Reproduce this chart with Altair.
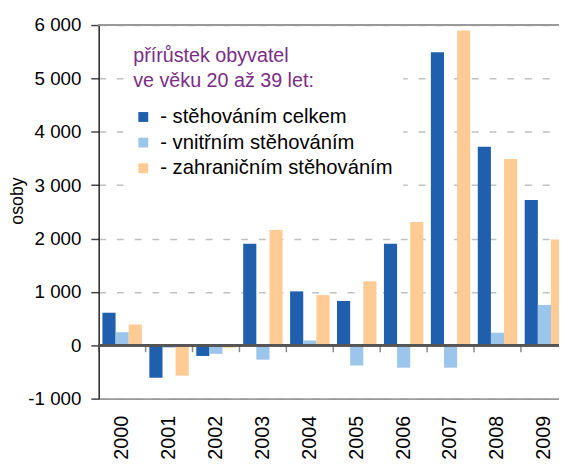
import altair as alt
import pandas as pd

years = ["2000", "2001", "2002", "2003", "2004", "2005", "2006", "2007", "2008", "2009"]
series_names = ["stěhováním celkem", "vnitřním stěhováním", "zahraničním stěhováním"]
celkem = [610, -610, -200, 1900, 1010, 830, 1900, 5490, 3720, 2720]
vnitrni = [245, -45, -160, -270, 90, -380, -420, -420, 235, 755]
zahranicni = [390, -570, -45, 2160, 940, 1200, 2310, 5900, 3490, 1980]
colors = ["#1F5FAD", "#9CC5EB", "#FECB95"]
y_ticks = [-1000, 0, 1000, 2000, 3000, 4000, 5000, 6000]

rows = []
for name, vals in zip(series_names, [celkem, vnitrni, zahranicni]):
    for y, v in zip(years, vals):
        rows.append({"rok": y, "rada": name, "hodnota": v})
df = pd.DataFrame(rows)
df_years = pd.DataFrame({"rok": years})

FONT = "Liberation Sans"

x_scale = alt.Scale(domain=years, paddingInner=0, paddingOuter=0, range=[0, 476])
y_scale = alt.Scale(domain=[-1000, 6000], nice=False)

bars = alt.Chart(df).mark_bar().encode(
    x=alt.X("rok:N", scale=x_scale, sort=years,
            axis=alt.Axis(title=None, labelAngle=270, labelAlign="right", labelBaseline="middle",
                          labelPadding=17, labelFontSize=20, labelColor="#000000",
                          ticks=False, domainColor="#999999", domainWidth=2, grid=False)),
    xOffset=alt.XOffset("rada:N", sort=series_names,
                        scale=alt.Scale(domain=series_names, paddingInner=0, paddingOuter=0.285)),
    y=alt.Y("hodnota:Q", scale=y_scale,
            axis=alt.Axis(title="osoby", values=y_ticks,
                          labelExpr="(datum.value < 0 ? '-' : '') + replace(format(abs(datum.value), ','), ',', ' ')",
                          labelFontSize=19, labelColor="#000000", labelPadding=10,
                          tickSize=8, tickColor="#444444", tickWidth=1.5,
                          domainColor="#222222", domainWidth=1.5,
                          grid=True, gridColor="#C0C0C0", gridDash=[7, 11], gridWidth=1.5,
                          titleFontSize=18, titleFontWeight="normal", titleColor="#000000",
                          titleAngle=270, titleAlign="center", titleBaseline="bottom",
                          titleX=-73, titleY=178)),
    color=alt.Color("rada:N", sort=series_names,
                    scale=alt.Scale(domain=series_names, range=colors),
                    legend=alt.Legend(title=["přírůstek obyvatel", "ve věku 20 až 39 let:"],
                                      orient="none", legendX=25, legendY=11,
                                      fillColor="white", padding=10,
                                      titleColor="#7B2C85", titleFontSize=20, titleFont=FONT,
                                      titleFontWeight="normal", titleLineHeight=26, titlePadding=16,
                                      titleLimit=400,
                                      labelFontSize=20.5, labelFont=FONT, labelColor="#000000",
                                      labelExpr="'- ' + datum.label", labelLimit=400,
                                      symbolType="square", symbolSize=100, symbolStrokeWidth=0,
                                      symbolOpacity=1, labelOffset=7, rowPadding=5)),
)

zero_line = alt.Chart(df_years).mark_rule(color="#555555", strokeWidth=2).encode(
    y=alt.datum(0, scale=y_scale)
)
top_line = alt.Chart(df_years).mark_rule(color="#999999", strokeWidth=2).encode(
    y=alt.datum(6000, scale=y_scale)
)
zero_ticks = alt.Chart(df_years).mark_tick(orient="vertical", size=7, thickness=1.5,
                                           yOffset=3.5, color="#555555").encode(
    x=alt.X("rok:N", scale=x_scale, sort=years, bandPosition=0),
    y=alt.datum(0, scale=y_scale),
)

chart = alt.layer(bars, zero_line, zero_ticks, top_line).properties(
    width=467, height=379,
    autosize=alt.AutoSizeParams(type="none"),
    padding={"left": 92, "top": 14, "right": 0, "bottom": 63},
).configure(font=FONT).configure_view(strokeWidth=0)

chart.save("out.html", embed_options={"renderer": "svg", "actions": False})
